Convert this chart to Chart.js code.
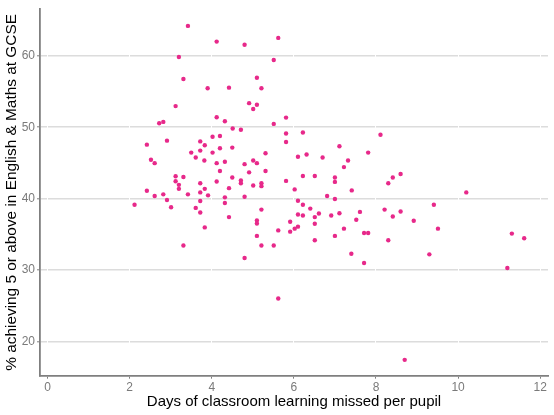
<!DOCTYPE html>
<html>
<head>
<meta charset="utf-8">
<script src="https://cdn.jsdelivr.net/npm/chart.js@4"></script>
<style>
  html, body { margin: 0; padding: 0; background: #ffffff; }
  #wrap { width: 554px; height: 415px; position: relative; }
</style>
</head>
<body>
<div id="wrap"><canvas id="c"></canvas></div>
<script>
// Days of classroom learning missed per pupil
const daysMissed = [
  3.42, 4.12, 3.20, 3.31, 3.90, 3.12, 4.12, 2.72, 2.82, 4.80,
  5.62, 5.51, 5.10, 4.42, 5.21, 4.91, 5.10, 5.01, 4.32, 5.51,
  5.81, 4.51, 4.71, 4.02, 4.20, 2.42, 2.91, 3.72, 3.83, 3.72,
  3.50, 4.02, 4.20, 3.61, 3.82, 4.12, 4.20, 2.52, 2.61, 3.12,
  3.31, 3.12, 3.20, 3.20, 3.72, 3.83, 4.12, 3.72, 3.91, 3.42,
  2.42, 2.61, 2.82, 2.91, 2.12, 3.01, 3.72, 3.61, 3.72, 3.83,
  3.31, 5.81, 6.22, 5.81, 4.50, 5.31, 4.32, 4.80, 5.01, 5.10,
  6.10, 6.31, 4.91, 5.31, 4.50, 4.71, 4.71, 5.01, 5.21, 5.21,
  4.42, 5.81, 6.22, 6.51, 6.02, 4.32, 4.80, 4.32, 6.10, 6.22,
  6.40, 6.61, 5.21, 4.42, 6.10, 6.22, 6.51, 5.10, 5.10, 5.91,
  6.51, 5.62, 5.91, 6.02, 6.10, 5.10, 6.51, 5.21, 5.51, 8.11,
  7.11, 7.81, 6.70, 7.32, 7.22, 7.00, 7.00, 8.60, 8.41, 8.30,
  7.41, 6.81, 7.00, 6.91, 7.11, 7.61, 7.52, 7.22, 7.00, 7.71,
  7.81, 8.30, 8.21, 8.41, 8.60, 8.92, 10.20, 9.41, 9.51, 11.31,
  11.61, 9.30, 11.20, 4.80, 5.62, 7.40, 7.71, 8.70
];
// % achieving 5 or above in English & Maths at GCSE
const pctAchieving = [
  64.2, 62.0, 59.85, 56.75, 55.46, 52.96, 51.4, 50.57, 50.75, 61.55,
  62.52, 59.43, 56.94, 55.55, 55.46, 53.38, 53.15, 52.55, 50.84, 50.47,
  51.35, 49.82, 49.64, 48.67, 48.77, 47.56, 48.12, 48.02, 47.47, 46.73,
  46.45, 46.45, 47.05, 45.76, 45.35, 44.97, 43.86, 45.44, 44.97, 43.13,
  43.04, 42.44, 41.93, 41.37, 42.16, 41.37, 42.4, 40.87, 40.46, 40.6,
  41.1, 40.36, 40.6, 39.8, 39.15, 38.8, 39.67, 38.7, 38.05, 35.97,
  33.43, 49.13, 49.27, 47.94, 47.15, 46.36, 45.17, 44.83, 45.35, 44.97,
  45.86, 46.18, 43.68, 43.86, 42.95, 42.53, 42.16, 41.84, 42.16, 41.75,
  41.47, 42.48, 43.17, 43.17, 41.29, 40.18, 40.26, 39.39, 39.71, 39.15,
  38.6, 37.91, 38.46, 37.41, 37.77, 37.63, 37.41, 36.94, 36.52, 36.76,
  36.48, 35.55, 35.37, 35.79, 36.07, 34.78, 34.17, 33.43, 33.43, 48.95,
  47.33, 46.45, 45.76, 45.35, 44.42, 42.95, 42.34, 43.45, 42.95, 42.16,
  41.15, 40.36, 39.94, 37.63, 37.96, 38.14, 37.03, 35.79, 34.78, 35.19,
  35.19, 34.17, 38.46, 37.49, 38.19, 36.9, 40.87, 39.15, 35.79, 35.1,
  34.45, 32.19, 30.29, 31.68, 26.0, 32.28, 30.98, 17.41
];
const xTicks = [0, 2, 4, 6, 8, 10, 12];
const yTicks = [20, 30, 40, 50, 60];
const xTitle = 'Days of classroom learning missed per pupil';
const yTitle = '% achieving 5 or above in English & Maths at GCSE';

const points = daysMissed.map((d, i) => ({ x: d, y: pctAchieving[i] }));

Chart.defaults.font.family = "'Liberation Sans', Arial, sans-serif";

new Chart(document.getElementById('c'), {
  type: 'scatter',
  data: {
    datasets: [{
      data: points,
      backgroundColor: '#E7298A',
      borderWidth: 0,
      pointRadius: 2.2,
      pointHoverRadius: 2.2
    }]
  },
  options: {
    responsive: true,
    maintainAspectRatio: false,
    animation: false,
    events: [],
    layout: { padding: { top: 5, right: 6, left: 0, bottom: 0 } },
    plugins: { legend: { display: false }, tooltip: { enabled: false } },
    scales: {
      x: {
        type: 'linear',
        min: -0.183,
        max: 12.19,
        afterBuildTicks: (s) => { s.ticks = xTicks.map(v => ({ value: v })); },
        afterFit: (s) => { s.height = 39.3; },
        grid: {
          z: -1,
          color: '#ffffff',
          lineWidth: 1,
          drawTicks: true,
          tickLength: 3,
          tickColor: '#7f7f7f',
          tickWidth: 1
        },
        border: { display: true, color: '#7f7f7f', width: 1.8, z: 0 },
        ticks: { color: '#7a7a7a', font: { size: 12 }, padding: 2, maxRotation: 0 },
        title: {
          display: true,
          text: xTitle,
          color: '#000000',
          font: { size: 15 },
          padding: { top: 0, bottom: 4 }
        }
      },
      y: {
        type: 'linear',
        min: 15.19,
        max: 66.54,
        afterBuildTicks: (s) => { s.ticks = yTicks.map(v => ({ value: v })); },
        afterFit: (s) => { s.width = 40; },
        grid: {
          z: -2,
          color: '#dcdcdc',
          lineWidth: 1.6,
          drawTicks: true,
          tickLength: 3,
          tickColor: '#7f7f7f',
          tickWidth: 1
        },
        border: { display: true, color: '#7f7f7f', width: 1.8, z: 0 },
        ticks: { color: '#7a7a7a', font: { size: 12 }, padding: 2 },
        title: {
          display: true,
          text: yTitle,
          color: '#000000',
          font: { size: 15.4 },
          padding: { top: 3, bottom: 0 }
        }
      }
    }
  }
});
</script>
</body>
</html>
